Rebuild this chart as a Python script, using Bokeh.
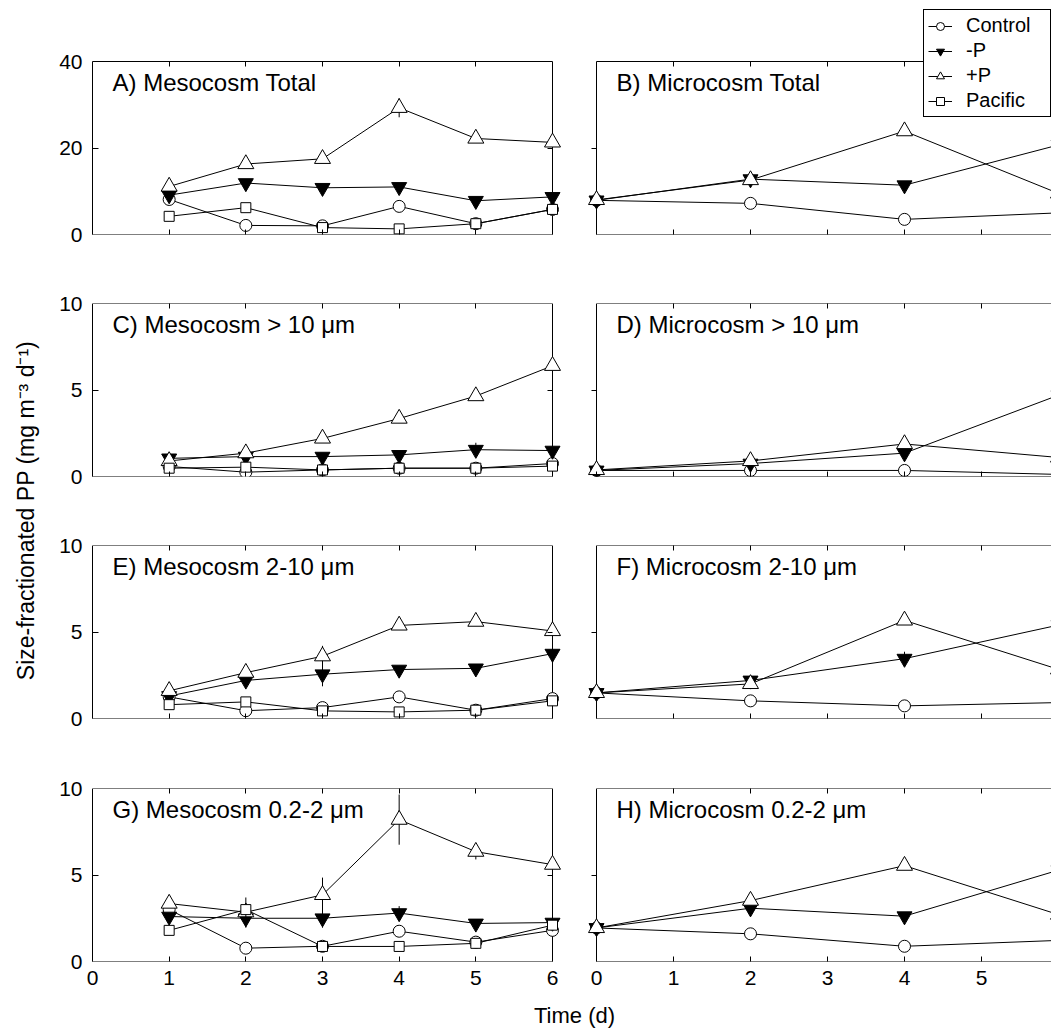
import math
from bokeh.plotting import figure
from bokeh.models import (Range1d, LinearAxis, FixedTicker, Label, Legend, LegendItem,
                          ColumnDataSource, BoxAnnotation)
from bokeh.layouts import row, column
from bokeh.embed import file_html
from bokeh.resources import INLINE

FONT = "Liberation Sans"

# ---------------- data ----------------
meso_days = [1, 2, 3, 4, 5, 6]
micro_days = [0, 2, 4, 6]
series_names = ["Control", "-P", "+P", "Pacific"]

# A) Mesocosm Total
A_control = [8.1, 2.1, 2.0, 6.5, 2.5, 5.8]
A_minusP = [9.1, 11.9, 10.8, 11.0, 7.8, 8.7]
A_plusP = [11.1, 16.3, 17.5, 29.3, 22.2, 21.3]
A_pacific = [4.2, 6.2, 1.6, 1.3, 2.5, 5.8]
A_plusP_err = [0, 0, 0, 2.2, 0, 0]

# B) Microcosm Total
B_control = [7.9, 7.2, 3.5, 5.0]
B_minusP = [7.9, 12.8, 11.4, 20.7]
B_plusP = [8.0, 12.6, 23.9, 9.5]

# C) Mesocosm > 10 um
C_control = [0.58, 0.25, 0.38, 0.48, 0.48, 0.75]
C_minusP = [1.05, 1.15, 1.15, 1.25, 1.55, 1.5]
C_plusP = [0.9, 1.35, 2.2, 3.35, 4.65, 6.4]
C_pacific = [0.48, 0.54, 0.38, 0.48, 0.48, 0.6]
C_minusP_err = [0.35, 0, 0, 0, 0.4, 0]

# D) Microcosm > 10 um
D_control = [0.35, 0.35, 0.35, 0.12]
D_minusP = [0.35, 0.75, 1.35, 4.7]
D_plusP = [0.38, 0.9, 1.88, 1.1]

# E) Mesocosm 2-10 um
E_control = [1.25, 0.45, 0.63, 1.25, 0.48, 1.15]
E_minusP = [1.3, 2.2, 2.56, 2.83, 2.9, 3.75]
E_plusP = [1.6, 2.65, 3.6, 5.38, 5.6, 5.06]
E_pacific = [0.8, 0.96, 0.44, 0.38, 0.48, 1.02]
E_minusP_err = [0, 0, 0.7, 0, 0, 0]
E_plusP_err = [0, 0, 0.6, 0, 0, 0]

# F) Microcosm 2-10 um
F_control = [1.48, 1.02, 0.73, 0.92]
F_minusP = [1.48, 2.2, 3.46, 5.4]
F_plusP = [1.48, 2.0, 5.67, 2.84]
F_minusP_err = [0, 0, 0.4, 0]

# G) Mesocosm 0.2-2 um
G_control = [3.0, 0.77, 0.88, 1.75, 1.12, 1.8]
G_minusP = [2.6, 2.5, 2.5, 2.8, 2.2, 2.25]
G_plusP = [3.35, 2.85, 3.85, 8.2, 6.35, 5.6]
G_pacific = [1.8, 3.0, 0.87, 0.87, 1.05, 2.1]
G_minusP_err = [0, 0.55, 0.55, 0.4, 0, 0]
G_plusP_err = [0, 0, 1.0, 1.45, 0.45, 0]
G_pacific_err = [0, 0.7, 0, 0, 0, 0]

# H) Microcosm 0.2-2 um
H_control = [1.94, 1.6, 0.88, 1.22]
H_minusP = [1.94, 3.08, 2.62, 5.28]
H_plusP = [1.94, 3.52, 5.54, 2.71]

y_label = "Size-fractionated PP (mg m\u207b\u00b3 d\u207b\u00b9)"
x_label = "Time (d)"

panel_specs = [
    ("A) Mesocosm Total", "meso", 40, 20,
     {"Control": A_control, "-P": A_minusP, "+P": A_plusP, "Pacific": A_pacific},
     {"+P": A_plusP_err}),
    ("B) Microcosm Total", "micro", 40, 20,
     {"Control": B_control, "-P": B_minusP, "+P": B_plusP}, {}),
    ("C) Mesocosm > 10 \u03bcm", "meso", 10, 5,
     {"Control": C_control, "-P": C_minusP, "+P": C_plusP, "Pacific": C_pacific},
     {"-P": C_minusP_err}),
    ("D) Microcosm > 10 \u03bcm", "micro", 10, 5,
     {"Control": D_control, "-P": D_minusP, "+P": D_plusP}, {}),
    ("E) Mesocosm 2-10 \u03bcm", "meso", 10, 5,
     {"Control": E_control, "-P": E_minusP, "+P": E_plusP, "Pacific": E_pacific},
     {"-P": E_minusP_err, "+P": E_plusP_err}),
    ("F) Microcosm 2-10 \u03bcm", "micro", 10, 5,
     {"Control": F_control, "-P": F_minusP, "+P": F_plusP}, {"-P": F_minusP_err}),
    ("G) Mesocosm 0.2-2 \u03bcm", "meso", 10, 5,
     {"Control": G_control, "-P": G_minusP, "+P": G_plusP, "Pacific": G_pacific},
     {"-P": G_minusP_err, "+P": G_plusP_err, "Pacific": G_pacific_err}),
    ("H) Microcosm 0.2-2 \u03bcm", "micro", 10, 5,
     {"Control": H_control, "-P": H_minusP, "+P": H_plusP}, {}),
]

# ---------------- styling ----------------
STYLE = {
    "Control": ("circle", 12, "white"),
    "-P": ("inverted_triangle", 15, "black"),
    "+P": ("triangle", 16, "white"),
    "Pacific": ("square", 10, "white"),
}
LEGEND_SIZE = {"Control": 9, "-P": 10, "+P": 10, "Pacific": 8}
FRAME_H = 173
EDGE = 9          # px of room beyond the box so edge markers are not cut
YLAB_W = 43
LEFT_W = 531
RIGHT_W = 477
TICK_FONT = "21px"


def style_axis(ax, ticks, show_labels, tick_in, tick_out, standoff=7, show_ticks=True):
    ax.ticker = FixedTicker(ticks=ticks)
    ax.axis_line_color = None
    ax.major_tick_line_color = "black" if show_ticks else None
    ax.major_tick_line_width = 1
    ax.major_tick_in = tick_in
    ax.major_tick_out = tick_out
    ax.minor_tick_line_color = None
    ax.major_label_text_font = FONT
    ax.major_label_text_color = "black"
    if show_labels:
        ax.major_label_text_font_size = TICK_FONT
        ax.major_label_standoff = standoff
    else:
        ax.major_label_text_font_size = "0px"
        ax.major_label_overrides = {t: "" for t in ticks}
        ax.major_label_standoff = 0


def make_panel(spec, left, top_b, bot_b, xlabels, extra_top=0):
    title, kind, ymax, ymid, data, errs = spec
    days = meso_days if kind == "meso" else micro_days
    if left:
        scale = 460 / 6
        xr = Range1d(-EDGE / scale, 6 + EDGE / scale)
        width, mbl, mbr = LEFT_W, 40, 13
    else:
        scale = 77.0
        xr = Range1d(-EDGE / scale, 455 / scale)
        width, mbl, mbr = RIGHT_W, 13, 0
    ytop = ymax * (FRAME_H + extra_top) / FRAME_H
    p = figure(width=width, height=top_b + FRAME_H + bot_b, x_range=xr,
               y_range=Range1d(0, ytop), output_backend="svg", toolbar_location=None,
               x_axis_location=None, y_axis_location=None,
               min_border_left=mbl, min_border_right=mbr,
               min_border_top=top_b - extra_top, min_border_bottom=bot_b,
               outline_line_color=None)
    p.grid.visible = False

    # frame box from 0 to 6 days
    p.add_layout(BoxAnnotation(left=0, right=6, bottom=0, top=ymax,
                               fill_color=None, line_color="black", line_width=1,
                               line_alpha=1, level="underlay"))

    if left:
        yl = LinearAxis()
        style_axis(yl, [0, ymid, ymax], True, 0, 0, standoff=1, show_ticks=False)
        p.add_layout(yl, "left")
        yt = LinearAxis(fixed_location=0)
        style_axis(yt, [ymid], False, 6, 0)
        p.add_layout(yt, "left")
        ra = LinearAxis(fixed_location=6)
        style_axis(ra, [ymid], False, 5, 0)
        p.add_layout(ra, "right")
    else:
        yt = LinearAxis(fixed_location=0)
        style_axis(yt, [ymid], False, 0, 5)
        p.add_layout(yt, "left")

    xa = LinearAxis()
    style_axis(xa, [0, 1, 2, 3, 4, 5, 6], xlabels, 5, 0, standoff=9)
    p.add_layout(xa, "below")

    ta = LinearAxis(fixed_location=ymax) if extra_top else LinearAxis()
    style_axis(ta, [1, 2, 3, 4, 5], False, 5, 0)
    p.add_layout(ta, "above")

    for name in series_names:
        ys = data.get(name)
        if ys is None:
            continue
        e = errs.get(name)
        if e:
            ex = [x for x, v in zip(days, e) if v > 0]
            lo = [y - v for y, v in zip(ys, e) if v > 0]
            hi = [y + v for y, v in zip(ys, e) if v > 0]
            p.segment(x0=ex, y0=lo, x1=ex, y1=hi, line_color="black", line_width=1)
        p.line(days, ys, line_color="black", line_width=1)
        m, s, f = STYLE[name]
        p.scatter(days, ys, marker=m, size=s, fill_color=f, line_color="black", line_width=1)

    p.add_layout(Label(x=0, y=ymax * (1 - 21 / FRAME_H), x_offset=20, text=title,
                       text_font=FONT, text_font_size="24px", text_color="black",
                       text_baseline="middle", text_align="left"))
    return p


# (top border, bottom border, x tick labels, frame extension above the box)
rows_cfg = [(61, 14, False, 59), (55, 14, False, 0), (55, 14, False, 0), (56, 32, True, 0)]
fig_rows = []
for i, (tb, bb, xl, ext) in enumerate(rows_cfg):
    lp = make_panel(panel_specs[2 * i], True, tb, bb, xl, extra_top=ext)
    rp = make_panel(panel_specs[2 * i + 1], False, tb, bb, xl, extra_top=ext)
    if i == 0:
        items = []
        for name in series_names:
            # legend-only renderers: a single NaN point, nothing drawn in the plot
            src = ColumnDataSource(data=dict(x=[float("nan")], y=[float("nan")]))
            m, s, f = STYLE[name]
            lr = rp.line("x", "y", source=src, line_color="black", line_width=1)
            sr = rp.scatter("x", "y", source=src, marker=m, size=LEGEND_SIZE[name],
                            fill_color=f, line_color="black", line_width=1)
            items.append(LegendItem(label=name, renderers=[lr, sr]))
        leg = Legend(items=items, location=(336, 117), margin=0, padding=4, spacing=2,
                     glyph_width=24, glyph_height=20, label_height=20, label_width=80,
                     label_standoff=14, label_text_font=FONT, label_text_font_size="20px",
                     label_text_color="black", border_line_color="black",
                     border_line_width=1, border_line_alpha=1,
                     background_fill_color="white", background_fill_alpha=1)
        rp.add_layout(leg)
    fig_rows.append(row(lp, rp, spacing=0))

total_h = sum(tb + FRAME_H + bb for tb, bb, _, _ in rows_cfg)
xlab_h = 1031 - total_h
xlab = figure(width=LEFT_W + RIGHT_W, height=xlab_h, x_range=Range1d(0, 1), y_range=Range1d(0, 1),
              output_backend="svg", toolbar_location=None, x_axis_location=None,
              y_axis_location=None, min_border=0, outline_line_color=None)
xlab.grid.visible = False
xlab.add_layout(Label(x=(574 - YLAB_W) / (LEFT_W + RIGHT_W), y=1 - 22 / xlab_h, text=x_label,
                      text_font=FONT, text_font_size="22px", text_color="black",
                      text_align="center", text_baseline="middle"))

ylab = figure(width=YLAB_W, height=1031, x_range=Range1d(0, 1), y_range=Range1d(0, 1),
              output_backend="svg", toolbar_location=None, x_axis_location=None,
              y_axis_location=None, min_border=0, outline_line_color=None)
ylab.grid.visible = False
ylab.add_layout(Label(x=25 / YLAB_W, y=1 - 510 / 1031, text=y_label, angle=math.pi / 2,
                      text_font=FONT, text_font_size="23px", text_color="black",
                      text_align="center", text_baseline="middle"))

layout = row(ylab, column(*fig_rows, xlab, spacing=0), spacing=0)
open("out.html", "w").write(file_html(layout, INLINE))
